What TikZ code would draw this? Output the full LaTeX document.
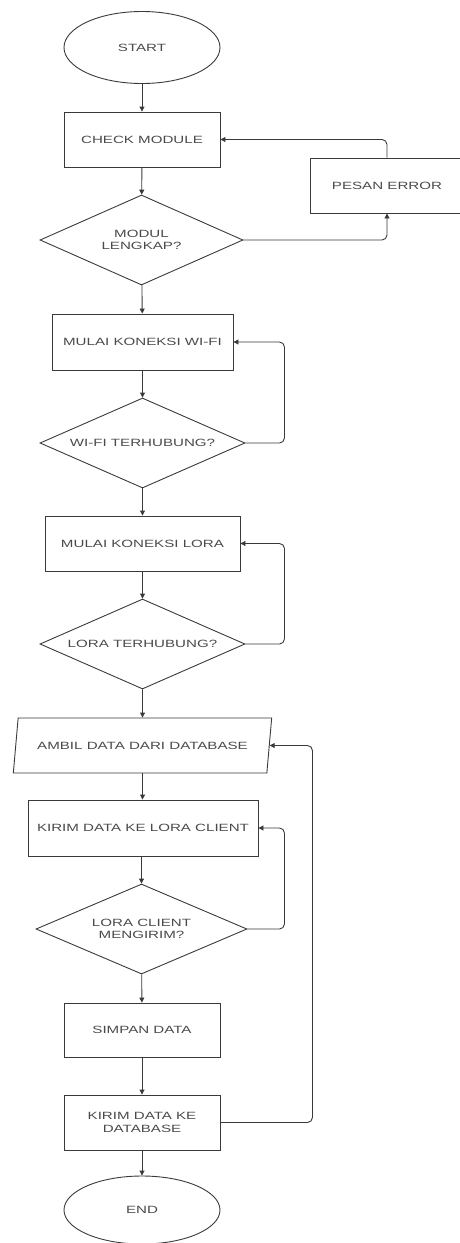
\documentclass[tikz,border=0pt]{standalone}
\usepackage{fontspec}
\newfontfamily\diafont[FakeStretch=1.44]{Liberation Sans}
\usetikzlibrary{shapes.geometric,arrows.meta}
\definecolor{linec}{HTML}{3A3A3A}
\definecolor{textc}{HTML}{4A4A4A}
\tikzset{
  base/.style={draw=linec, line width=0.9pt, text=textc, align=center, inner sep=1pt,
    font=\diafont\fontsize{10.5}{12.5}\selectfont},
  procbox/.style={base, rectangle},
  termbox/.style={base, ellipse, minimum width=156pt},
  decbox/.style={base, diamond, shape aspect=2.28, inner sep=0pt, minimum height=90pt},
  iobox/.style={base, trapezium, trapezium left angle=66.4, trapezium right angle=113.6,
    trapezium stretches=true, minimum width=259pt, minimum height=55pt},
  arr/.style={draw=linec, line width=0.9pt, -{Triangle[length=5pt,width=5pt]}},
  loop/.style={arr, rounded corners=5pt},
}
\begin{document}
\begin{tikzpicture}[x=1pt,y=-1pt]
\useasboundingbox (0,0) rectangle (460,1243);
\node[termbox, minimum height=72pt] (start) at (142,47.5) {START};
\node[procbox, minimum width=156pt, minimum height=55pt] (check) at (142,139.5) {CHECK MODULE};
\node[decbox, minimum width=203pt] (modul) at (141.5,240) {MODUL\\LENGKAP?};
\node[procbox, minimum width=154pt, minimum height=55pt] (error) at (387,185.5) {PESAN ERROR};
\node[procbox, minimum width=181pt, minimum height=56pt] (wifi) at (142.5,342) {MULAI KONEKSI WI-FI};
\node[decbox, minimum width=205pt] (wifiq) at (142.5,443) {WI-FI TERHUBUNG?};
\node[procbox, minimum width=195pt, minimum height=55pt] (lora) at (142.5,543.5) {MULAI KONEKSI LORA};
\node[decbox, minimum width=205pt] (loraq) at (142.5,644) {LORA TERHUBUNG?};
\node[iobox] (ambil) at (142.5,745.5) {AMBIL DATA DARI DATABASE};
\node[procbox, minimum width=230pt, minimum height=56pt] (kirim) at (143,828) {KIRIM DATA KE LORA CLIENT};
\node[decbox, minimum width=211pt] (client) at (141.5,929) {LORA CLIENT\\MENGIRIM?};
\node[procbox, minimum width=156pt, minimum height=54pt] (simpan) at (142,1030) {SIMPAN DATA};
\node[procbox, minimum width=156pt, minimum height=55pt] (kdb) at (142,1122.5) {KIRIM DATA KE\\DATABASE};
\node[termbox, minimum height=68pt] (end) at (142,1210) {END};

\draw[arr] (start) -- (check);
\draw[arr] (check) -- (modul);
\draw[arr] (modul) -- (wifi);
\draw[arr] (wifi) -- (wifiq);
\draw[arr] (wifiq) -- (lora);
\draw[arr] (lora) -- (loraq);
\draw[arr] (loraq.south) -- (ambil.south |- ambil.north);
\draw[arr] (ambil.south) -- (kirim.north -| ambil.south);
\draw[arr] (kirim.south -| client.north) -- (client.north);
\draw[arr] (client) -- (simpan);
\draw[arr] (simpan) -- (kdb);
\draw[arr] (kdb) -- (end);

\draw[loop] (modul.east) -| (error.south);
\draw[loop] (error.north) |- (check.east);
\draw[loop] (wifiq.east) -- ++(39,0) |- (wifi.east);
\draw[loop] (loraq.east) -- ++(39,0) |- (lora.east);
\draw[loop] (client.east) -- ++(37,0) |- (kirim.east);
\draw[loop] (kdb.east) -- ++(92,0) |- (ambil.east);
\end{tikzpicture}
\end{document}
